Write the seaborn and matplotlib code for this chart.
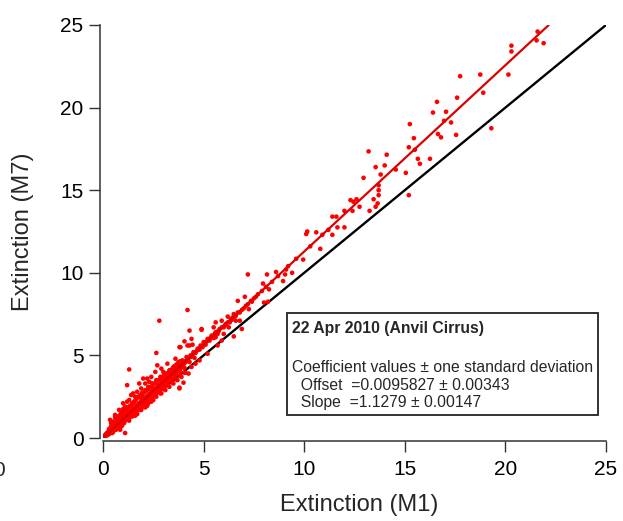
import matplotlib
matplotlib.use("Agg")
import matplotlib.pyplot as plt
import seaborn as sns
import pandas as pd
from matplotlib.patches import Rectangle

# ---------------- data ----------------
ext_m1 = [
    # dense core near the origin
    0.05, 0.1, 0.12, 0.15, 0.2, 0.2, 0.22, 0.25, 0.28, 0.3, 0.3, 0.33, 0.35, 0.38, 0.4, 0.4,
    0.42, 0.45, 0.45, 0.48, 0.5, 0.5, 0.52, 0.55, 0.55, 0.58, 0.6, 0.6, 0.62, 0.65, 0.65, 0.68,
    0.7, 0.7, 0.72, 0.75, 0.75, 0.78, 0.8, 0.8, 0.82, 0.85, 0.85, 0.88, 0.9, 0.9, 0.92, 0.95,
    0.95, 0.98, 1.0, 1.0, 1.02, 1.05, 1.05, 1.08, 1.1, 1.1, 1.12, 1.15, 1.15, 1.18, 1.2, 1.2,
    1.22, 1.25, 1.25, 1.28, 1.3, 1.3, 1.32, 1.35, 1.35, 1.38, 1.4, 1.4, 1.42, 1.45, 1.45, 1.48,
    1.5, 1.5, 1.52, 1.55, 1.55, 1.58, 1.6, 1.6, 1.62, 1.65, 1.65, 1.68, 1.7, 1.7, 1.72, 1.75,
    1.75, 1.78, 1.8, 1.8, 1.85, 1.85, 1.88, 1.9, 1.92, 1.95, 1.95, 2.0, 2.0, 2.05, 2.05, 2.1,
    2.1, 2.12, 2.15, 2.2, 2.2, 2.25, 2.25, 2.3, 2.3, 2.35, 2.4, 2.4, 2.45, 2.45, 2.5, 2.5,
    2.55, 2.6, 2.6, 2.65, 2.7, 2.7, 2.75, 2.8, 2.8, 2.85, 2.9, 2.9, 2.95, 3.0, 3.0, 3.05,
    3.1, 3.1, 3.15, 3.2, 3.25, 3.3, 3.3, 3.35, 3.4, 3.45, 3.5, 3.5, 3.55, 3.6, 3.65, 3.7,
    3.75, 3.8, 3.85, 3.9, 3.95, 4.0, 4.05, 4.1, 4.15, 4.2, 4.3, 4.35, 4.4, 4.5, 4.55, 4.6,
    4.7, 4.8, 4.85, 4.95, 5.0, 5.1, 5.2, 5.3, 5.4, 5.5, 5.6, 5.7, 5.8, 6.0, 6.1, 6.3,
    6.45, 6.6, 6.8, 7.0, 7.2, 7.5, 7.7, 7.9, 8.1, 8.4, 8.7, 9.2, 9.6, 10.3, 10.9, 11.2,
    # scattered points around the core
    0.8, 1.0, 1.5, 0.6, 2.2, 2.6, 3.1, 2.4, 1.9, 3.5, 3.9, 4.4, 4.8,
    1.3, 2.65, 4.9, 3.8, 3.8, 1.2, 1.8, 3.8, 3.15, 4.0, 4.25, 0.35, 1.1, 0.85,
    2.8, 4.2, 4.3, 4.9, 4.05, 4.4, 4.45, 3.85, 4.2, 4.3,
    # 5 - 10
    7.2, 8.15, 8.6, 9.05, 9.4, 9.1, 7.95, 8.95, 8.25, 7.05, 6.7, 7.4, 8.0, 8.2, 7.25,
    6.5, 6.2, 6.4, 5.9, 6.6, 6.8, 5.6, 6.1, 5.5, 6.25, 5.75, 6.9, 6.0, 6.5, 5.6, 5.9,
    # 10 - 16
    9.95, 10.8, 10.1, 10.15, 10.6, 11.4, 11.65, 12.0, 11.4, 11.6, 12.0, 12.4, 13.25,
    12.75, 13.55, 13.65, 12.45, 12.3, 12.6, 13.45, 15.2, 13.7, 13.7, 13.7, 12.95, 13.8,
    15.05, 14.55, 14.0, 13.55, 16.25, 15.75, 15.65, 14.1, 13.2, 15.5, 15.2,
    # upper end
    21.6, 21.55, 21.9, 20.3, 20.3, 17.75, 18.75, 20.15, 18.9, 17.6, 16.6, 16.4, 17.05,
    16.95, 17.3, 15.25, 16.65, 16.8, 17.55, 15.45, 19.3,
]
ext_m7 = [
    0.06, 0.1, 0.18, 0.12, 0.25, 0.3, 0.18, 0.35, 0.22, 0.4, 0.28, 0.5, 0.3, 0.45, 0.6, 0.38,
    0.52, 0.7, 0.42, 0.55, 0.65, 0.45, 0.8, 0.6, 0.5, 0.72, 0.9, 0.62, 0.55, 0.8, 1.0, 0.7,
    0.85, 0.6, 1.1, 0.78, 0.95, 0.68, 1.0, 0.85, 1.25, 0.9, 0.75, 1.1, 1.0, 0.85, 1.35, 1.05,
    0.9, 1.2, 1.15, 0.95, 1.45, 1.2, 1.0, 1.3, 1.25, 1.05, 1.6, 1.3, 1.1, 1.4, 1.35, 1.15,
    1.75, 1.45, 1.2, 1.5, 1.45, 1.25, 1.9, 1.55, 1.3, 1.6, 1.6, 1.35, 2.0, 1.65, 1.4, 1.75,
    1.7, 1.45, 2.15, 1.75, 1.5, 1.85, 1.8, 1.55, 2.3, 1.9, 1.6, 2.0, 1.95, 1.65, 2.45, 2.0,
    1.7, 2.1, 2.05, 1.8, 2.6, 2.1, 1.85, 2.2, 2.0, 2.25, 2.75, 2.3, 2.0, 2.4, 2.15, 2.9,
    2.4, 2.1, 2.5, 2.45, 2.25, 3.1, 2.6, 2.55, 2.3, 2.7, 2.75, 2.45, 3.3, 2.85, 2.85, 2.55,
    2.95, 3.0, 2.65, 3.5, 3.1, 2.8, 3.2, 3.15, 2.9, 3.7, 3.3, 3.0, 3.4, 3.4, 3.1, 3.9,
    3.5, 3.2, 3.6, 3.6, 3.4, 4.1, 3.75, 3.5, 3.85, 3.6, 3.95, 4.3, 3.75, 4.1, 3.85, 4.2,
    4.5, 4.3, 4.0, 4.4, 4.7, 4.5, 4.25, 4.65, 4.9, 4.75, 4.6, 5.0, 4.95, 5.2, 4.85, 5.15,
    5.4, 5.35, 5.6, 5.5, 5.8, 5.65, 6.0, 5.9, 6.2, 6.05, 6.4, 6.3, 6.6, 6.7, 6.85, 7.0,
    7.3, 7.4, 7.6, 7.85, 8.1, 8.45, 8.7, 8.9, 9.15, 9.45, 9.8, 10.4, 10.85, 11.6, 12.3, 12.6,
    1.7, 2.1, 2.7, 1.4, 3.6, 4.0, 2.9, 2.2, 1.7, 3.3, 3.7, 4.3, 4.7,
    4.15, 5.15, 6.6, 3.05, 5.5, 3.2, 3.3, 3.0, 3.65, 3.35, 3.9, 1.1, 0.3, 0.5,
    7.1, 7.75, 6.5, 6.55, 5.85, 6.0, 5.65, 5.5, 5.6, 5.6,
    9.9, 9.9, 10.05, 9.9, 10.0, 10.2, 9.35, 9.5, 9.0, 8.55, 8.3, 8.25, 8.2, 8.25, 7.8,
    7.5, 7.35, 7.15, 7.1, 7.1, 7.1, 7.0, 6.9, 6.7, 6.7, 6.5, 6.6, 6.3, 6.15, 6.1, 5.9,
    10.8, 11.45, 12.35, 12.5, 12.45, 12.3, 12.75, 12.75, 13.4, 13.4, 13.75, 13.75, 13.75,
    14.0, 14.0, 14.2, 14.3, 14.4, 14.45, 14.45, 14.7, 14.7, 15.0, 15.3, 15.75, 15.95,
    16.05, 16.25, 16.5, 16.4, 16.9, 16.6, 16.9, 17.15, 17.35, 17.45, 17.6,
    24.6, 24.07, 23.9, 23.75, 23.4, 21.9, 22.0, 22.0, 20.9, 20.6, 20.35, 19.7, 19.75,
    19.2, 19.1, 19.0, 18.4, 18.2, 18.35, 18.15, 18.75,
]

# second pass over the dense core (filling in the solid band)
core_m1 = [
    0.08, 0.13, 0.17, 0.23, 0.27, 0.32, 0.36, 0.41, 0.44, 0.47, 0.53, 0.57, 0.61, 0.63, 0.67, 0.71,
    0.74, 0.77, 0.81, 0.83, 0.87, 0.91, 0.93, 0.97, 1.01, 1.03, 1.07, 1.11, 1.13, 1.17, 1.21, 1.23,
    1.27, 1.31, 1.33, 1.37, 1.41, 1.43, 1.47, 1.51, 1.53, 1.57, 1.61, 1.63, 1.67, 1.71, 1.73, 1.77,
    1.81, 1.83, 1.87, 1.91, 1.93, 1.97, 2.02, 2.07, 2.08, 2.13, 2.17, 2.23, 2.27, 2.32, 2.37, 2.42,
    2.47, 2.52, 2.57, 2.62, 2.67, 2.72, 2.77, 2.83, 2.87, 2.93, 2.97, 3.03, 3.07, 3.13, 3.17, 3.23,
    3.27, 3.33, 3.37, 3.43, 3.47, 3.53, 3.58, 3.63, 3.68, 3.73, 3.78, 3.83, 3.88, 3.93, 3.98, 4.08,
    4.18, 4.28, 4.38, 4.48, 4.58, 4.68, 4.78, 4.9, 5.05, 5.15, 5.25, 5.35, 5.45, 5.55, 5.65, 5.75,
    5.9, 6.05, 6.2, 6.35, 6.55, 6.7, 6.9, 7.1, 7.35, 7.6,
    0.5, 0.7, 0.9, 1.1, 1.3, 1.6, 1.9, 2.1, 2.4, 2.9, 3.2, 3.6, 1.4, 2.0, 2.7, 0.4,
    0.5, 0.9, 1.3, 1.7, 2.1, 2.5, 2.9, 3.3, 3.7, 4.1, 4.6, 5.2, 5.7,
]
core_m7 = [
    0.14, 0.2, 0.26, 0.3, 0.38, 0.36, 0.48, 0.46, 0.58, 0.5, 0.66, 0.64, 0.75, 0.68, 0.82, 0.78,
    0.9, 0.84, 0.95, 0.9, 1.02, 1.06, 0.98, 1.14, 1.1, 1.22, 1.16, 1.32, 1.2, 1.36, 1.3, 1.44,
    1.38, 1.52, 1.42, 1.58, 1.5, 1.68, 1.6, 1.76, 1.64, 1.8, 1.72, 1.9, 1.82, 1.98, 1.86, 2.04,
    1.94, 2.14, 2.02, 2.2, 2.1, 2.3, 2.2, 2.36, 2.26, 2.44, 2.36, 2.54, 2.46, 2.66, 2.56, 2.76,
    2.68, 2.9, 2.8, 2.96, 2.9, 3.12, 3.0, 3.24, 3.12, 3.36, 3.22, 3.46, 3.34, 3.56, 3.42, 3.7,
    3.58, 3.8, 3.66, 3.92, 3.78, 4.02, 3.9, 4.14, 4.02, 4.26, 4.14, 4.38, 4.24, 4.5, 4.36, 4.56,
    4.66, 4.86, 4.92, 5.1, 5.16, 5.3, 5.44, 5.52, 5.7, 5.84, 5.94, 6.08, 6.14, 6.3, 6.42, 6.48,
    6.7, 6.8, 7.0, 7.2, 7.35, 7.6, 7.75, 8.0, 8.3, 8.55,
    1.0, 1.3, 1.6, 1.9, 2.3, 2.5, 3.0, 3.3, 3.7, 4.2, 4.5, 4.8, 2.6, 3.6, 4.4, 0.9,
    0.35, 0.7, 1.05, 1.45, 1.85, 2.3, 2.7, 3.1, 3.5, 3.95, 4.5, 5.1, 5.6,
]

# third pass: the wider spread of the band between 0 and 4
band_m1 = [
    0.3, 0.4, 0.55, 0.65, 0.75, 0.85, 0.95, 1.05, 1.15, 1.25, 1.35, 1.45, 1.55, 1.65, 1.75, 1.85,
    1.95, 2.05, 2.15, 2.25, 2.35, 2.45, 2.55, 2.65, 2.75, 2.85, 2.95, 3.05, 3.15, 3.25, 3.35, 3.45,
    3.55, 3.65, 3.75, 3.85,
    0.45, 0.65, 0.85, 1.05, 1.25, 1.45, 1.65, 1.85, 2.05, 2.25, 2.45, 2.65, 2.85, 3.05, 3.25, 3.45,
    3.65, 3.85, 4.05,
    0.6, 1.0, 1.2, 1.7, 2.3, 3.0, 0.95, 1.6, 2.2,
]
band_m7 = [
    0.55, 0.7, 0.85, 1.15, 1.2, 1.4, 1.5, 1.55, 1.75, 1.85, 1.95, 2.1, 2.2, 2.4, 2.5, 2.45,
    2.6, 2.75, 2.85, 2.95, 3.05, 3.15, 3.3, 3.35, 3.5, 3.55, 3.7, 3.75, 3.9, 3.95, 4.1, 4.2,
    4.35, 4.45, 4.6, 4.65,
    0.3, 0.5, 0.7, 0.9, 1.1, 1.3, 1.5, 1.7, 1.9, 2.1, 2.3, 2.5, 2.7, 2.95, 3.15, 3.35,
    3.55, 3.75, 3.95,
    1.25, 1.75, 2.2, 2.8, 3.4, 4.0, 0.75, 1.35, 1.95,
]

# fit coefficients shown in the box
fit_offset = 0.0095827
fit_slope = 1.1279
fit_x = [0.0, 22.15]
one_to_one = [0.0, 25.0]

box_title = "22 Apr 2010 (Anvil Cirrus)"
box_lines = [
    "Coefficient values \u00b1 one standard deviation",
    "  Offset  =0.0095827 \u00b1 0.00343",
    "  Slope  =1.1279 \u00b1 0.00147",
]
ticks = [0, 5, 10, 15, 20, 25]

# ---------------- plotting ----------------
sns.set_style("ticks")
plt.rcParams["font.family"] = ["Liberation Sans", "DejaVu Sans"]

fig = plt.figure(figsize=(6.23, 5.21), dpi=100)
ax = fig.add_axes([103 / 623, 1 - 438 / 521, 503 / 623, 413 / 521])

df = pd.DataFrame({"M1": ext_m1 + core_m1 + band_m1,
                   "M7": ext_m7 + core_m7 + band_m7})
sns.scatterplot(data=df, x="M1", y="M7", ax=ax, color="#ff0000", s=11,
                linewidth=0, edgecolor="none", zorder=3)

sns.lineplot(x=one_to_one, y=one_to_one, ax=ax, color="black", lw=1.7, zorder=2)
fit_y = [fit_offset + fit_slope * v for v in fit_x]
sns.lineplot(x=fit_x, y=fit_y, ax=ax, color="#dd0000", lw=1.6, zorder=4)

ax.set_xlim(0, 25)
ax.set_ylim(0, 25)
ax.set_xticks(ticks)
ax.set_yticks(ticks)
ax.tick_params(axis="both", direction="out", length=8, width=1.0,
               colors="#333333", labelsize=15, labelcolor="black")
ax.tick_params(axis="x", pad=6)
ax.tick_params(axis="y", pad=4)
sns.despine(ax=ax, offset=2)
for sp in ("left", "bottom"):
    ax.spines[sp].set_linewidth(1.1)
    ax.spines[sp].set_color("#333333")

ax.set_xlabel("Extinction (M1)", fontsize=17)
ax.set_ylabel("Extinction (M7)", fontsize=17)
ax.xaxis.set_label_coords(0.509, -0.135)
ax.yaxis.set_label_coords(-0.137, 0.5)

# annotation box
fig.patches.append(Rectangle((287 / 623, 1 - 415 / 521), 311 / 623, 102 / 521,
                             transform=fig.transFigure, facecolor="white",
                             edgecolor="#222222", linewidth=1.3, zorder=5))
fig.text(292 / 623, 1 - 328 / 521, box_title, fontsize=11.3, fontweight="bold",
         ha="left", va="center", zorder=6)
for yy, line in zip([367, 385, 402], box_lines):
    fig.text(292 / 623, 1 - yy / 521, line, fontsize=11.3, ha="left", va="center", zorder=6)

# stray clipped tick label at the far left edge (as in the reference)
fig.text(5 / 623, 1 - 470 / 521, "0", fontsize=15, ha="right", va="center")

fig.savefig("out.png", dpi=100)
